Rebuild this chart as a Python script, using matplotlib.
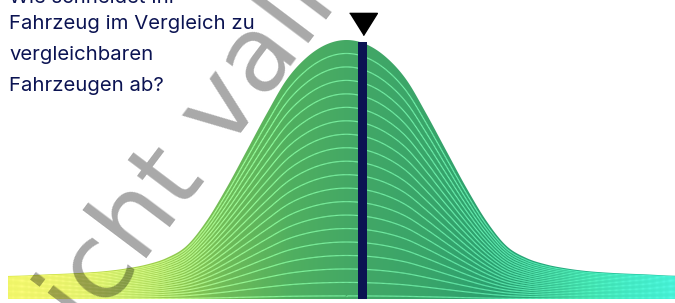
import numpy as np
import matplotlib
matplotlib.use("Agg")
import matplotlib.pyplot as plt
from matplotlib.patches import Polygon
from matplotlib.colors import LinearSegmentedColormap
from matplotlib.collections import LineCollection

# ---------------- data ----------------
question_lines = ["Wie schneidet Ihr", "Fahrzeug im Vergleich zu",
                  "vergleichbaren", "Fahrzeugen ab?"]
watermark_text = "nicht valide"

score = [0.0, 2.73, 5.69, 8.64, 11.60, 14.55, 17.50, 20.46, 23.41, 26.37,
         29.32, 32.28, 35.23, 38.18, 41.14, 44.09, 47.05, 50.0,
         52.95, 55.91, 58.86, 61.82, 64.77, 67.72, 70.68, 73.63, 76.59,
         79.54, 82.50, 85.45, 88.40, 91.36, 94.31, 97.27, 100.0]
density = [0.089, 0.091, 0.095, 0.098, 0.102, 0.108, 0.118, 0.133, 0.158,
           0.205, 0.301, 0.429, 0.571, 0.714, 0.846, 0.932, 0.983, 1.0,
           0.983, 0.932, 0.846, 0.714, 0.571, 0.429, 0.301, 0.205, 0.158,
           0.133, 0.118, 0.108, 0.102, 0.098, 0.095, 0.091, 0.089]

vehicle_score = 52.4
vehicle_density = 0.993
contour_levels = [1 - 0.052 * j for j in range(1, 20)]

# ---------------- style ----------------
W, H = 675, 303
NAVY = "#0b1352"
fill_stops = [(0.00, "#d2e43c"), (0.12, "#bedb43"), (0.22, "#9ccd4c"),
              (0.32, "#6fbb58"), (0.42, "#4faf60"), (0.52, "#42a766"),
              (0.62, "#39a56a"), (0.72, "#2aa070"), (0.82, "#22a97c"),
              (0.92, "#1fbf98"), (1.00, "#1fd2aa")]
fill_cmap = LinearSegmentedColormap.from_list("fill", fill_stops)


def light(c):
    r, g, b, a = c
    return (min(1, r + 0.22), min(1, g + 0.30), min(1, b + 0.26), 1)


fig = plt.figure(figsize=(W / 100, H / 100), dpi=100)
# axes: score 0..100 spans pixel 8..685, density 0 at pixel row 299, 1 at row 40
ax = fig.add_axes([8 / W, 4 / H, 677 / W, 299 / H])
ax.set_xlim(0, 100)
ax.set_ylim(0, 299 / 259)
ax.axis("off")

# smooth curve through the read points (Catmull-Rom -> cubic Bezier)
P = np.column_stack([score, density])
Pp = np.vstack([P[0], P, P[-1]])
t = np.linspace(0, 1, 24)[:, None]
pts = []
for i in range(len(P) - 1):
    p0, p1, p2, p3 = Pp[i], Pp[i + 1], Pp[i + 2], Pp[i + 3]
    c1 = p1 + (p2 - p0) / 6
    c2 = p2 - (p3 - p1) / 6
    seg = ((1 - t) ** 3) * p1 + 3 * ((1 - t) ** 2) * t * c1 + 3 * (1 - t) * t ** 2 * c2 + t ** 3 * p2
    pts.append(seg if i == 0 else seg[1:])
curve = np.vstack(pts)
xs, ys = curve[:, 0], curve[:, 1]

# gradient fill clipped to the curve
poly = Polygon(np.vstack([[xs[0], 0], curve, [xs[-1], 0]]), closed=True,
               facecolor="none", edgecolor="none", transform=ax.transData)
ax.add_patch(poly)
grad = np.linspace(0, 1, 600)[None, :]
im = ax.imshow(grad, cmap=fill_cmap, extent=[0, 100, 0, 1.1], aspect="auto",
               origin="lower", zorder=1, interpolation="bilinear")
im.set_clip_path(poly)

# contour lines (scaled copies of the curve)
segs, cols = [], []
xm = (xs[:-1] + xs[1:]) / 2
seg_cols = [light(fill_cmap(v / 100)) for v in xm]
for k in contour_levels:
    yk = ys * k
    for i in range(len(xs) - 1):
        segs.append([(xs[i], yk[i]), (xs[i + 1], yk[i + 1])])
        cols.append(seg_cols[i])
lc = LineCollection(segs, colors=cols, linewidths=0.85, zorder=2,
                    capstyle="butt")
ax.add_collection(lc)

# vehicle marker bar and triangle
ax.bar([vehicle_score], [vehicle_density], width=1.35, color=NAVY, zorder=3)
ax.plot([vehicle_score], [275 / 259], marker=[(-1, 0.8), (1, 0.8), (0, -0.8)],
        markersize=20, color="black", linestyle="none", zorder=4,
        clip_on=False)

# question text
baselines = [3.0, 29, 60.5, 91]
for line, yb in zip(question_lines, baselines):
    fig.text(9 / W, 1 - yb / H, line, family="Inter", fontsize=14.6,
             color=NAVY, ha="left", va="baseline", zorder=5)

# watermark
fig.text(233 / W, 1 - 143 / H, watermark_text, family="DejaVu Sans",
         fontsize=76, color="black", alpha=0.34, rotation=53,
         rotation_mode="anchor", ha="center", va="baseline", zorder=10)

fig.savefig("out.png", dpi=100)
